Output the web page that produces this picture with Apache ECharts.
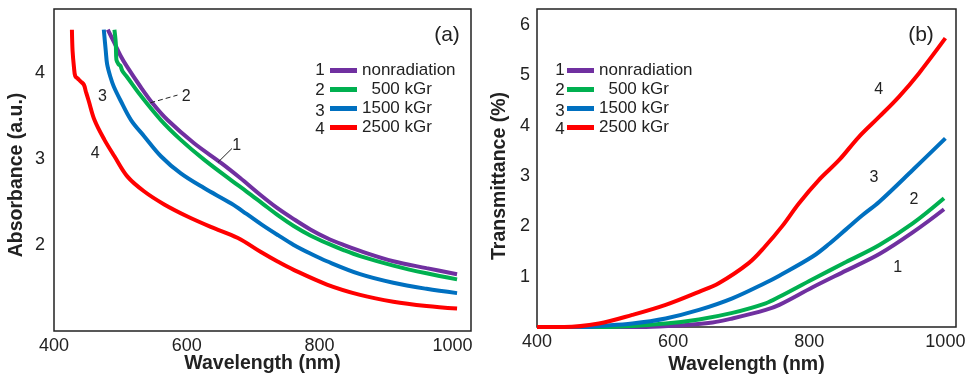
<!DOCTYPE html>
<html><head><meta charset="utf-8">
<script src="https://cdn.jsdelivr.net/npm/echarts/dist/echarts.min.js"></script>
<style>html,body{margin:0;padding:0;background:#fff}#c{width:973px;height:377px}</style>
</head><body><div id="c"></div>
<script>
// ---------- data ----------
const seriesNames = ['nonradiation', '500 kGr', '1500 kGr', '2500 kGr'];
const legendNums = ['1', '2', '3', '4'];
const xTicks = [400, 600, 800, 1000];
const absTicks = [2, 3, 4];
const transTicks = [1, 2, 3, 4, 5, 6];

// (a) Absorbance vs wavelength
const absNonrad = [[481,4.50],[490,4.36],[500,4.20],[510,4.07],[530,3.84],[550,3.63],[571,3.45],[611,3.18],[652,2.95],[680,2.78],[711,2.58],[736,2.43],[761,2.30],[786,2.18],[811,2.08],[836,2.00],[861,1.93],[911,1.81],[961,1.73],[1007,1.66]];
const abs500 = [[491,4.50],[493,4.35],[494,4.15],[497,4.10],[500,4.08],[503,4.02],[510,3.95],[530,3.74],[561,3.45],[591,3.22],[626,2.99],[667,2.75],[690,2.62],[714,2.48],[738,2.34],[761,2.22],[786,2.11],[811,2.02],[836,1.94],[861,1.87],[911,1.76],[961,1.67],[1007,1.60]];
const abs1500 = [[475,4.50],[478,4.25],[480,4.10],[485,3.95],[490,3.84],[500,3.68],[516,3.45],[536,3.26],[561,3.03],[591,2.83],[626,2.66],[667,2.48],[690,2.36],[714,2.23],[738,2.11],[761,2.00],[786,1.90],[811,1.81],[861,1.66],[911,1.56],[961,1.49],[1007,1.44]];
const abs2500 = [[427,4.50],[428,4.25],[430,4.07],[432,3.96],[436,3.93],[440,3.90],[445,3.86],[448,3.78],[452,3.68],[461,3.45],[476,3.22],[491,3.03],[511,2.79],[536,2.62],[566,2.47],[601,2.33],[636,2.21],[677,2.08],[711,1.92],[736,1.81],[761,1.71],[811,1.54],[861,1.42],[911,1.34],[961,1.29],[1007,1.26]];

// (b) Transmittance vs wavelength
const trNonrad = [[400,0],[560,0],[609,0.03],[658,0.09],[687,0.17],[736,0.34],[756,0.44],[805,0.79],[854,1.12],[903,1.45],[952,1.88],[998,2.34]];
const tr500 = [[400,0],[500,0],[589,0.07],[638,0.15],[687,0.28],[736,0.47],[756,0.60],[805,0.95],[854,1.29],[903,1.63],[952,2.06],[998,2.56]];
const tr1500 = [[400,0],[470,0],[491,0.02],[540,0.07],[589,0.17],[638,0.34],[687,0.57],[736,0.88],[756,1.02],[805,1.40],[830,1.66],[854,1.94],[878,2.22],[903,2.49],[952,3.12],[1000,3.75]];
const tr2500 = [[400,0],[440,0],[491,0.07],[540,0.24],[589,0.44],[638,0.70],[667,0.87],[711,1.27],[735,1.60],[760,2.00],[785,2.46],[814,2.92],[844,3.32],[873,3.78],[903,4.18],[932,4.58],[961,5.04],[1000,5.74]];

// curve annotations (data coords)
const absNotes = [['3',473,3.72],['4',462,3.06],['2',599,3.72],['1',675,3.15]];
const absLeaders = [[[647,2.96],[668,3.12],'solid'],[[545,3.65],[586,3.74],'dashed']];
const trNotes = [['4',902,4.71],['3',895,2.96],['2',954,2.54],['1',930,1.19]];

// ---------- styling ----------
const colors = ['#7030A0', '#00B050', '#0070C0', '#FF0000'];
const FONT = 'Liberation Sans, Arial, sans-serif';
const TXT = '#222';

const absData = [absNonrad, abs500, abs1500, abs2500];
const trData = [trNonrad, tr500, tr1500, tr2500];

function mkSeries(dataSets, idx) {
  return dataSets.map((d, i) => ({
    name: seriesNames[i], type: 'line', xAxisIndex: idx, yAxisIndex: idx,
    data: d, showSymbol: false, symbol: 'none', smooth: 0.35,
    lineStyle: { width: 4, color: colors[i] }, itemStyle: { color: colors[i] },
    z: 2 + i, animation: false
  }));
}

const tickFmt = (allowed) => (v) => allowed.indexOf(Math.round(v * 1000) / 1000) >= 0 ? String(v) : '';

const chart = echarts.init(document.getElementById('c'), null, { renderer: 'canvas' });
const legendCommon = {
  orient: 'vertical', icon: 'rect', itemWidth: 27, itemHeight: 5, itemGap: 2,
  data: seriesNames, selectedMode: false,
  textStyle: { fontSize: 17, fontFamily: FONT, color: TXT },
  formatter: (n) => n === '500 kGr' ? '  ' + n : n
};
const nameStyle = (pad) => ({ fontSize: 19.5, fontWeight: 'bold', fontFamily: FONT, color: TXT, padding: pad });
chart.setOption({
  animation: false,
  color: colors,
  grid: [
    { left: 54, top: 9, width: 417, height: 322, show: true, borderColor: '#222', borderWidth: 1.5, outerBoundsMode: 'none', containLabel: false },
    { left: 537, top: 9, width: 419, height: 318, show: true, borderColor: '#222', borderWidth: 1.5, outerBoundsMode: 'none', containLabel: false }
  ],
  legend: [
    Object.assign({ left: 325, top: 57 }, legendCommon),
    Object.assign({ left: 562, top: 57 }, legendCommon)
  ],
  xAxis: [0, 1].map(i => ({
    type: 'value', gridIndex: i, min: 400, max: i === 0 ? 1028 : 1015.6, interval: 200,
    name: 'Wavelength (nm)', nameLocation: 'middle', nameGap: i === 0 ? 23 : 28, nameMoveOverlap: false,
    nameTextStyle: nameStyle(0),
    axisLine: { show: false }, axisTick: { show: false }, splitLine: { show: false },
    axisLabel: { fontSize: 18, fontFamily: FONT, color: TXT, margin: 6, formatter: tickFmt(xTicks) }
  })),
  yAxis: [
    {
      type: 'value', gridIndex: 0, min: 1, max: 4.74, interval: 1,
      name: 'Absorbance (a.u.)', nameLocation: 'middle', nameGap: 27, nameRotate: 90, nameMoveOverlap: false,
      nameTextStyle: nameStyle([0, 10, 0, 0]),
      axisLine: { show: false }, axisTick: { show: false }, splitLine: { show: false },
      axisLabel: { fontSize: 18, fontFamily: FONT, color: TXT, margin: 9, formatter: tickFmt(absTicks) }
    },
    {
      type: 'value', gridIndex: 1, min: 0, max: 6.32, interval: 1,
      name: 'Transmittance (%)', nameLocation: 'middle', nameGap: 27, nameRotate: 90, nameMoveOverlap: false,
      nameTextStyle: nameStyle([0, 16, 0, 0]),
      axisLine: { show: false }, axisTick: { show: false }, splitLine: { show: false },
      axisLabel: { fontSize: 18, fontFamily: FONT, color: TXT, margin: 7, formatter: tickFmt(transTicks) }
    }
  ],
  series: mkSeries(absData, 0).concat(mkSeries(trData, 1))
});

// annotations placed via the axes' scales
const g = [];
function txt(text, p, size) {
  g.push({ type: 'text', x: p[0], y: p[1], z: 100,
    style: { text: text, fill: TXT, font: size + 'px ' + FONT, textAlign: 'center', textVerticalAlign: 'middle' } });
}
absNotes.forEach(n => txt(n[0], chart.convertToPixel({ gridIndex: 0 }, [n[1], n[2]]), 16));
trNotes.forEach(n => txt(n[0], chart.convertToPixel({ gridIndex: 1 }, [n[1], n[2]]), 16));
absLeaders.forEach(l => {
  const a = chart.convertToPixel({ gridIndex: 0 }, l[0]);
  const b = chart.convertToPixel({ gridIndex: 0 }, l[1]);
  g.push({ type: 'line', z: 100, shape: { x1: a[0], y1: a[1], x2: b[0], y2: b[1] },
    style: { stroke: '#222', lineWidth: 1, lineDash: l[2] === 'dashed' ? [5, 3] : null } });
});
// legend numbers
const rowsY = [70, 90, 111, 129];
legendNums.forEach((n, i) => { txt(n, [320, rowsY[i]], 17); txt(n, [560, rowsY[i]], 17); });
// panel labels
txt('(a)', [447, 35], 21);
txt('(b)', [921, 35], 21);
chart.setOption({ graphic: g });
</script>
</body></html>
